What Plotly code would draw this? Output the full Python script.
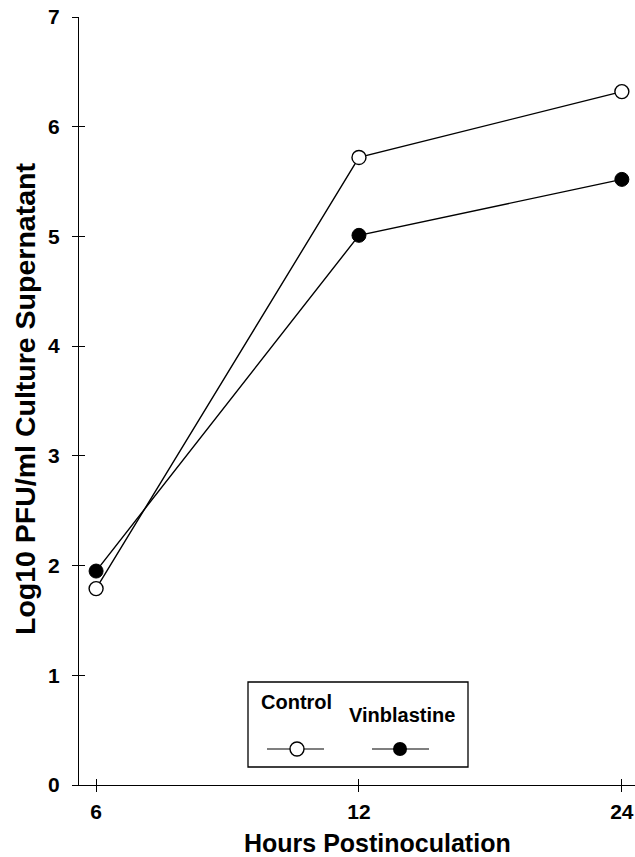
import plotly.graph_objects as go

# ---- data ----
hours = ["6", "12", "24"]
control = [1.79, 5.72, 6.32]
vinblastine = [1.95, 5.01, 5.52]
y_ticks = [0, 1, 2, 3, 4, 5, 6, 7]

W, H = 635, 857
L, R, T, B = 79, 0, 17, 72
FONT = "Liberation Sans"

def px(x):  # pixel x -> paper
    return (x - L) / (W - L - R)

def py(y):  # pixel y -> paper
    return (H - B - y) / (H - T - B)

fig = go.Figure()

line_w = 1.4
fig.add_trace(go.Scatter(
    x=hours, y=control, mode="lines+markers", name="Control",
    line=dict(color="black", width=line_w),
    marker=dict(symbol="circle", size=14, color="white",
                line=dict(color="black", width=1.4)),
    showlegend=False))
fig.add_trace(go.Scatter(
    x=hours, y=vinblastine, mode="lines+markers", name="Vinblastine",
    line=dict(color="black", width=line_w),
    marker=dict(symbol="circle", size=14, color="black",
                line=dict(color="black", width=1)),
    showlegend=False))
# invisible helper on overlay axes (for crossing ticks)
fig.add_trace(go.Scatter(
    x=hours, y=control, xaxis="x2", yaxis="y2", mode="markers",
    marker=dict(opacity=0), showlegend=False, hoverinfo="skip"))

# legend samples on an auxiliary axis
fig.add_trace(go.Scatter(
    x=[267, 324], y=[749, 749], xaxis="x3", yaxis="y3", mode="lines",
    line=dict(color="black", width=1.2), showlegend=False, hoverinfo="skip"))
fig.add_trace(go.Scatter(
    x=[372, 429], y=[749, 749], xaxis="x3", yaxis="y3", mode="lines",
    line=dict(color="black", width=1.2), showlegend=False, hoverinfo="skip"))
fig.add_trace(go.Scatter(
    x=[297], y=[749], xaxis="x3", yaxis="y3", mode="markers",
    marker=dict(symbol="circle", size=14, color="white",
                line=dict(color="black", width=1.4)),
    showlegend=False, hoverinfo="skip"))
fig.add_trace(go.Scatter(
    x=[400], y=[749], xaxis="x3", yaxis="y3", mode="markers",
    marker=dict(symbol="circle", size=14, color="black"),
    showlegend=False, hoverinfo="skip"))

xr = [-0.065, 2.05]
common_x = dict(type="category", categoryorder="array", categoryarray=hours,
                range=xr, showgrid=False, zeroline=False)
common_y = dict(range=[0, 7], tickvals=y_ticks, showgrid=False, zeroline=False)

fig.update_layout(
    width=W, height=H,
    margin=dict(l=L, r=R, t=T, b=B),
    paper_bgcolor="white", plot_bgcolor="white",
    font=dict(family=FONT, color="black"),
    xaxis=dict(**common_x, showline=True, linecolor="black", linewidth=1.3,
               ticks="outside", ticklen=6, tickwidth=1.2, tickcolor="black",
               tickfont=dict(family=FONT, size=21, weight="bold"),
               ticklabelstandoff=2),
    yaxis=dict(**common_y, showline=True, linecolor="black", linewidth=1.3,
               ticks="outside", ticklen=6, tickwidth=1.2, tickcolor="black",
               tickfont=dict(family=FONT, size=21, weight="bold"),
               ticklabelstandoff=8),
    xaxis2=dict(**common_x, overlaying="x", anchor="y", side="bottom",
                ticks="inside", ticklen=6, tickwidth=1.2, tickcolor="black",
                showticklabels=False, showline=False),
    yaxis2=dict(**common_y, overlaying="y", anchor="x", side="left",
                ticks="inside", ticklen=6, tickwidth=1.2, tickcolor="black",
                showticklabels=False, showline=False),
    xaxis3=dict(domain=[px(248), px(468)], range=[248, 468], anchor="y3",
                visible=False, fixedrange=True),
    yaxis3=dict(domain=[py(767), py(682)], range=[767, 682], anchor="x3",
                visible=False, fixedrange=True),
    shapes=[dict(type="rect", xref="paper", yref="paper",
                 x0=px(248), x1=px(468), y0=py(767), y1=py(682),
                 line=dict(color="black", width=1.3), fillcolor="rgba(0,0,0,0)")],
    annotations=[
        dict(text="Hours Postinoculation", xref="paper", yref="paper",
             x=px(377), y=py(843), showarrow=False,
             font=dict(family=FONT, size=25, weight="bold"),
             xanchor="center", yanchor="middle"),
        dict(text="Log10 PFU/ml Culture Supernatant", xref="paper", yref="paper",
             x=px(25), y=py(399), showarrow=False, textangle=-90,
             font=dict(family=FONT, size=28.5, weight="bold"),
             xanchor="center", yanchor="middle"),
        dict(text="Control", xref="paper", yref="paper",
             x=px(296), y=py(702), showarrow=False,
             font=dict(family=FONT, size=20, weight="bold"),
             xanchor="center", yanchor="middle"),
        dict(text="Vinblastine", xref="paper", yref="paper",
             x=px(402), y=py(715), showarrow=False,
             font=dict(family=FONT, size=20, weight="bold"),
             xanchor="center", yanchor="middle"),
    ],
)

fig.write_html("out.html",
               config={"displayModeBar": False},
               post_script="document.body.style.margin='0';"
                           "document.body.style.overflow='hidden';")
